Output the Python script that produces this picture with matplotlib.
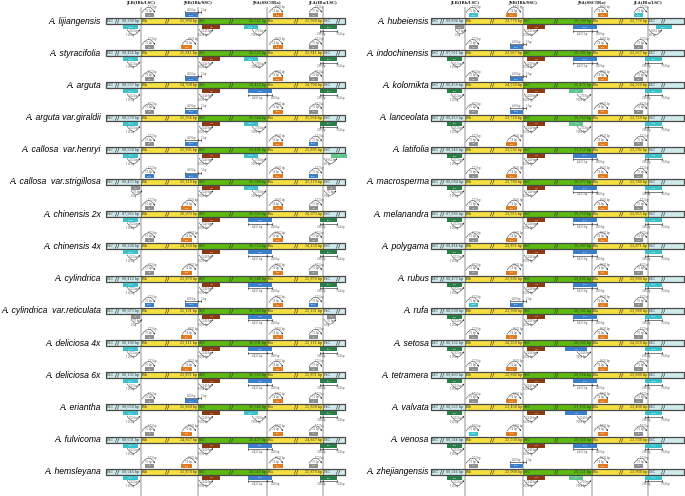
import matplotlib.pyplot as plt
from matplotlib.patches import Rectangle

# species names (left and right column)
left_names = ['A. lijiangensis', 'A. styracifolia', 'A. arguta', 'A. arguta var.giraldii',
              'A. callosa  var.henryi', 'A. callosa  var.strigillosa', 'A. chinensis 2x',
              'A. chinensis 4x', 'A. cylindrica', 'A. cylindrica  var.reticulata',
              'A. deliciosa 4x', 'A. deliciosa 6x', 'A. eriantha', 'A. fulvicoma', 'A. hemsleyana']
right_names = ['A. hubeiensis', 'A. indochinensis', 'A. kolomikta', 'A. lanceolata', 'A. latifolia',
               'A. macrosperma', 'A. melanandra', 'A. polygama', 'A. rubus', 'A. rufa', 'A. setosa',
               'A. tetramera', 'A. valvata', 'A. venosa', 'A. zhejiangensis']

# region lengths (bp)
left_lsc = ['88,399', '88,424', '88,537', '88,570', '88,538', '89,475', '87,965', '88,204',
            '88,412', '90,075', '88,180', '88,132', '88,058', '88,631', '88,546']
left_ir = ['25,968', '25,841', '24,708', '25,954', '25,895', '25,119', '26,073', '24,130',
           '25,870', '25,131', '25,111', '25,871', '25,860', '24,867', '25,878']
left_ssc = ['20,541', '20,535', '20,463', '20,544', '20,491', '20,390', '20,335', '20,752',
            '20,586', '20,342', '20,331', '20,333', '20,541', '20,437', '20,543']
right_lsc = ['89,804', '87,921', '88,458', '88,423', '88,246', '88,064', '87,886', '88,414',
             '88,473', '88,630', '88,132', '89,403', '88,535', '88,544', '88,546']
right_ir = ['23,776', '23,957', '24,520', '23,729', '23,592', '23,780', '23,955', '23,871',
            '23,886', '23,900', '24,350', '23,880', '23,400', '23,500', '23,900']
right_ssc = ['20,509', '20,295', '20,475', '20,543', '21,255', '20,077', '20,153', '20,395',
             '20,495', '20,505', '20,293', '20,514', '21,105', '20,028', '20,521']

# genes flanking each junction: (above JLB, above JSB, above JSA, above JLA)
left_top = [('gray', 'blue', 'orange', 'gray'), ('gray', 'orange', 'orange', 'gray'),
            ('gray', 'blue', 'orange', 'gray'), ('gray', 'blue', 'orange', 'gray'),
            ('gray', 'blue', 'orange', 'blue'), ('blue', 'blue', 'orange', 'blue'),
            ('gray', 'orange', 'orange', 'gray'), ('gray', 'orange', 'orange', 'gray'),
            ('gray', 'orange', 'orange', 'gray'), ('blue', 'blue', 'orange', 'blue'),
            ('gray', 'orange', 'orange', 'gray'), ('gray', 'orange', 'orange', 'gray'),
            ('gray', 'blue', 'orange', 'gray'), ('gray', 'orange', 'orange', 'gray'),
            ('gray', 'orange', 'orange', 'gray')]
# (below JLB, below JSB, below JSA, below JLA)
left_bot = [('cyan', 'brown', 'cyan', 'green'), ('cyan', 'brown', 'cyan', 'green'),
            ('cyan', 'brown', 'blue', 'green'), ('cyan', 'brown', 'cyan', 'green'),
            ('cyan', 'brown', 'cyan', 'lgreen_far'), ('gray', 'brown', 'cyan', 'gray'),
            ('cyan', 'brown', 'blue', 'green'), ('cyan', 'brown', 'blue', 'green'),
            ('cyan', 'brown', 'blue', 'green'), ('gray', 'brown', 'blue', 'gray'),
            ('cyan', 'brown', 'blue', 'green'), ('cyan', 'brown', 'blue', 'green'),
            ('cyan', 'brown', 'cyan', 'green'), ('cyan', 'brown', 'blue', 'green'),
            ('cyan', 'brown', 'blue', 'green')]
right_top = [('cyan', 'orange', 'orange', 'cyan'), ('gray', 'blue', 'orange', 'gray'),
             ('gray', 'blue', 'orange', 'gray'), ('gray', 'blue', 'orange', 'gray'),
             ('gray', 'orange', 'orange', 'gray'), ('gray', 'orange', 'orange', 'gray'),
             ('gray', 'orange', 'orange', 'gray'), ('gray', 'orange', 'orange', 'gray'),
             ('gray', 'orange', 'orange', 'gray'), ('cyan', 'blue', 'orange', 'gray'),
             ('gray', 'orange', 'orange', 'gray'), ('gray', 'orange', 'orange', 'gray'),
             ('gray', 'orange', 'orange', 'gray'), ('cyan', 'orange', 'orange', 'gray'),
             ('gray', 'blue', 'orange', 'gray')]
right_bot = [('gray', 'brown', 'blue', 'cyan_far'), ('green', 'brown', 'blue', 'cyan'),
             ('green', 'brown', 'lgreen', 'cyan'), ('green', 'brown', 'lgreen', 'cyan'),
             ('green', 'brown', 'blue', 'cyan'), ('green', 'brown', 'blue', 'cyan'),
             ('green', 'brown', 'blue', 'cyan'), ('green', 'brown', 'blue', 'cyan'),
             ('green', 'brown', 'blue', 'cyan'), ('green', 'brown', 'blue', 'cyan'),
             ('green', 'brown', 'blueb', 'cyan'), ('green', 'brown', 'blue', 'cyan'),
             ('green', 'brown', 'blueb', 'cyan'), ('green', 'brown', 'blue', 'cyan'),
             ('green', 'brown', 'lgreen', 'cyan')]

headers = ['JLB(IRb/LSC)', 'JSB(IRb/SSC)', 'JSA(SSC/IRa)', 'JLA(IRa/LSC)']

colors = {'gray': '#8e8e8e', 'blue': '#3b7fcb', 'blueb': '#3b7fcb', 'cyan': '#3cc0ca',
          'orange': '#e07b21', 'brown': '#8a3b14', 'green': '#2a7f49', 'lgreen': '#62c48c'}
gene_names = {'gray': 'rpl2', 'blue': 'ndhF', 'blueb': 'ycf1', 'cyan': 'rps19', 'orange': 'trnN',
              'brown': 'ycf1', 'green': 'trnH', 'lgreen': 'ycf1'}
lsc_col, ir_col, ssc_col = '#cfeaec', '#f6e03f', '#5cba10'
TS = 1.8   # tiny font size for annotations
ANN = '#555555'


def gene(ax, xl, xr, y, above, col):
    yt = y - 8.0 if above else y + 4.0
    ax.add_patch(Rectangle((xl, yt), xr - xl, 4, facecolor=colors[col], edgecolor='none', zorder=4))
    ax.text((xl + xr) / 2, yt + 2.1, gene_names[col], fontsize=1.4, color='white',
            ha='center', va='center', style='italic', zorder=5)


def arc(ax, xa, xb, y, above, t1, t2):
    yb = y - 8.4 if above else y + 8.4
    rad = -0.8 if above else 0.8
    ax.annotate('', xy=(xb, yb), xytext=(xa, yb),
                arrowprops=dict(arrowstyle='-|>', connectionstyle=f'arc3,rad={rad}',
                                lw=0.35, color='#333333', mutation_scale=2, shrinkA=0, shrinkB=0))
    xm = (xa + xb) / 2
    kw = dict(fontsize=TS, ha='center', va='center', family='DejaVu Serif', color=ANN)
    if above:
        ax.text(xm + 4, yb - 5.4, t1, **kw)
        ax.text(xm, yb - 1.9, t2, **kw)
    else:
        ax.text(xm, yb + 1.9, t1, **kw)
        ax.text(xm - 3, yb + 5.8, t2, **kw)


def bracket(ax, xa, xj, xb, y, above, t1, t2):
    yb = y - 9.5 if above else y + 9.5
    ax.plot([xa, xb], [yb, yb], color='#333333', lw=0.45)
    for xx in (xa, xj, xb):
        ax.plot([xx, xx], [yb - 1.0, yb + 1.0], color='#333333', lw=0.45)
    dy = -2.0 if above else 3.0
    kw = dict(fontsize=TS, ha='center', va='center', family='DejaVu Serif', color=ANN)
    ax.text((xa + xj) / 2, yb + dy, t1, **kw)
    ax.text(xb + 3, yb + dy, t2, **kw)


def draw_row(ax, y, x0, J, x1, lsc, ir, ssc, top, bot):
    h = 6
    spans = [(x0, J[0], lsc_col), (J[0], J[1], ir_col), (J[1], J[2], ssc_col),
             (J[2], J[3], ir_col), (J[3], x1, lsc_col)]
    for a, b, c in spans:
        ax.barh(y, b - a, left=a, height=h, color=c, edgecolor='#666666', linewidth=0.5, zorder=3)
    ax.add_patch(Rectangle((x0, y - h / 2), x1 - x0, h, fill=False, edgecolor='#4a4a4a',
                           linewidth=0.9, zorder=3))
    kw = dict(fontsize=2.4, va='center', zorder=5, family='DejaVu Serif', color='#333333')
    ax.text(x0 + 1, y, 'LSC', ha='left', **kw)
    ax.text(J[0] - 1.5, y, f'{lsc} bp', ha='right', **kw)
    ax.text(J[0] + 1, y, 'IRb', ha='left', **kw)
    ax.text(J[1] - 1, y, f'{ir} bp', ha='right', **kw)
    ax.text(J[1] + 1, y, 'SSC', ha='left', **kw)
    ax.text(J[2] - 1, y, f'{ssc} bp', ha='right', **kw)
    ax.text(J[2] + 1, y, 'IRa', ha='left', **kw)
    ax.text(J[3] - 1, y, f'{ir} bp', ha='right', **kw)
    ax.text(J[3] + 1, y, 'LSC', ha='left', **kw)
    for xs in [x0 + 11, (J[0] + J[1]) / 2 - 2, (J[1] + J[2]) / 2 - 1, (J[2] + J[3]) / 2 + 1, J[3] + 15]:
        ax.text(xs, y, '//', fontsize=4.2, ha='center', va='center', color='#333333',
                fontweight='bold', zorder=5)

    # genes above the bar
    gene(ax, J[0] + 4, J[0] + 13, y, True, top[0])
    arc(ax, J[0] + 1, J[0] + 14, y, True, '173 bp', '76 bp')
    if top[1] == 'blue':
        gene(ax, J[1] - 13, J[1], y, True, 'blue')
        bracket(ax, J[1] - 13, J[1], J[1] + 3, y, True, '469 bp', '5 bp')
    else:
        gene(ax, J[1] - 17, J[1] - 6, y, True, top[1])
        arc(ax, J[1] - 16, J[1] - 2, y, True, '1036 bp', '74 bp')
    gene(ax, J[2] + 6, J[2] + 16, y, True, top[2])
    arc(ax, J[2] + 2, J[2] + 16, y, True, '1036 bp', '74 bp')
    gene(ax, J[3] - 14, J[3] - 5, y, True, top[3])
    arc(ax, J[3] - 14, J[3] - 1, y, True, '172 bp', '76 bp')

    # genes below the bar
    if bot[0] == 'gray':
        gene(ax, J[0] - 10, J[0] - 1, y, False, 'gray')
        arc(ax, J[0] - 10, J[0] + 1, y, False, '76 bp', '0 bp')
    else:
        gene(ax, J[0] - 18, J[0] - 3, y, False, bot[0])
        arc(ax, J[0] - 14, J[0] - 1, y, False, '262 bp', '116 bp')
    gene(ax, J[1] + 4, J[1] + 22, y, False, bot[1])
    arc(ax, J[1] + 1, J[1] + 15, y, False, '2249 bp', '1030 bp')
    if bot[2] == 'blue':
        gene(ax, J[2] - 19, J[2] + 5, y, False, 'blue')
        bracket(ax, J[2] - 19, J[2], J[2] + 5, y, False, '4435 bp', '400 bp')
    elif bot[2] == 'blueb':
        gene(ax, J[2] - 27, J[2] - 5, y, False, 'blueb')
        arc(ax, J[2] - 15, J[2] - 1, y, False, '2249 bp', '7068 bp')
    else:
        gene(ax, J[2] - 23, J[2] - 9, y, False, bot[2])
        arc(ax, J[2] - 15, J[2] - 1, y, False, '278 bp', '7068 bp')
    if bot[3] in ('green', 'cyan'):
        gene(ax, J[3] - 3, J[3] + 14, y, False, bot[3])
        bracket(ax, J[3] - 3, J[3], J[3] + 14, y, False, '298 bp', '764 bp')
    elif bot[3] == 'gray':
        gene(ax, J[3] + 4, J[3] + 13, y, False, 'gray')
        arc(ax, J[3] + 1, J[3] + 13, y, False, '76 bp', '0 bp')
    else:
        c = bot[3].split('_')[0]
        gene(ax, J[3] + 8, J[3] + 24, y, False, c)
        arc(ax, J[3] + 1, J[3] + 14, y, False, '1062 bp', '80 bp')


fig = plt.figure(figsize=(6.85, 4.96), dpi=100)
ax = fig.add_axes([0, 0, 1, 1])
ax.set_xlim(0, 685)
ax.set_ylim(496, 0)
ax.axis('off')

panels = [(106, [141, 198, 267, 323], 345, 101, left_names, left_lsc, left_ir, left_ssc, left_top, left_bot),
          (431, [465, 523, 592, 648], 684, 429, right_names, right_lsc, right_ir, right_ssc, right_top, right_bot)]

for x0, J, x1, xn, names, lsc, ir, ssc, top, bot in panels:
    for xj, hd in zip(J, headers):
        ax.plot([xj, xj], [8, 496], color='#c4c4c4', lw=1.3, zorder=1)
        ax.text(xj, 3.2, hd, fontsize=2.8, fontweight='bold', ha='center', va='center',
                family='DejaVu Serif', color='#222222')
    for i, nm in enumerate(names):
        y = 21 + 32.2 * i
        draw_row(ax, y, x0, J, x1, lsc[i], ir[i], ssc[i], top[i], bot[i])
        ax.text(xn, y, nm, fontsize=6.2, style='italic', ha='right', va='center',
                family='Liberation Sans')

fig.savefig('out.png', dpi=100)
